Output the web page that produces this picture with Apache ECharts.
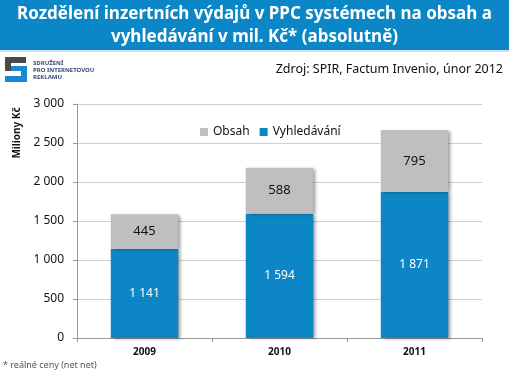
<!DOCTYPE html>
<html>
<head>
<meta charset="utf-8">
<script src="https://cdn.jsdelivr.net/npm/echarts@6/dist/echarts.min.js"></script>
<style>
  html, body { margin: 0; padding: 0; background: #fff; }
  #chartContainer { width: 509px; height: 376px; }
</style>
</head>
<body>
<div id="chartContainer"></div>
<script>
const years = ['2009', '2010', '2011'];
const searchValues = [1141, 1594, 1871];
const contentValues = [445, 588, 795];
const yTicks = [0, 500, 1000, 1500, 2000, 2500, 3000];

const FONT = '"Noto Sans", sans-serif';
const BLUE = '#0c86c4';
const GREY = '#bfbfbf';

function fmt(v) {
    return String(v).replace(/\B(?=(\d{3})+(?!\d))/g, ' ');
}

let chart = null;

document.addEventListener('DOMContentLoaded', function() {
    chart = echarts.init(document.getElementById('chartContainer'));

    const barShadow = {
        shadowColor: 'rgba(0,0,0,0.35)',
        shadowBlur: 3,
        shadowOffsetX: 3,
        shadowOffsetY: 1
    };

    const option = {
        backgroundColor: '#fff',
        textStyle: { fontFamily: FONT },
        graphic: [
            { type: 'rect', shape: { x: 0, y: 0, width: 509, height: 50 }, style: { fill: '#0b86c6' } },
            { type: 'rect', shape: { x: 0, y: 50, width: 509, height: 2 }, style: { fill: '#cfe3ef' } },
            { type: 'text', left: 'center', top: 3, style: { text: 'Rozdělení inzertních výdajů v PPC systémech na obsah a\nvyhledávání v mil. Kč* (absolutně)', fill: '#fff', font: 'bold 17px ' + FONT, textAlign: 'center', lineHeight: 23 } },
            // logo
            { type: 'rect', shape: { x: 5, y: 57, width: 21, height: 6 }, style: { fill: '#4a4a4a' } },
            { type: 'rect', shape: { x: 5, y: 57, width: 6, height: 14 }, style: { fill: '#4a4a4a' } },
            { type: 'rect', shape: { x: 11, y: 66, width: 16, height: 5 }, style: { fill: '#1a8ad0' } },
            { type: 'rect', shape: { x: 21, y: 66, width: 6, height: 16 }, style: { fill: '#1a8ad0' } },
            { type: 'rect', shape: { x: 5, y: 76, width: 22, height: 6 }, style: { fill: '#1a8ad0' } },
            { type: 'text', left: 33, top: 60, style: { text: 'SDRUŽENÍ\nPRO INTERNETOVOU\nREKLAMU', fill: '#3a4a7a', font: 'bold 6px ' + FONT, lineHeight: 7 } },
            { type: 'text', right: 6, top: 63, style: { text: 'Zdroj: SPIR, Factum Invenio, únor 2012', fill: '#111', font: '12.5px ' + FONT } },
            { type: 'text', left: 3, top: 361, style: { text: '* reálné ceny (net net)', fill: '#555', font: '9px ' + FONT } },
            { type: 'text', x: 17, y: 133, rotation: Math.PI / 2, style: { text: 'Miliony Kč', fill: '#111', font: 'bold 10px ' + FONT, textAlign: 'center', verticalAlign: 'middle' } }
        ],
        legend: {
            data: ['Obsah', 'Vyhledávání'],
            left: 195,
            top: 121,
            itemWidth: 8,
            itemHeight: 8,
            itemGap: 10,
            icon: 'rect',
            textStyle: { fontSize: 12, color: '#111', fontFamily: FONT }
        },
        grid: { left: 77, right: 27, top: 104, bottom: 38 },
        xAxis: {
            type: 'category',
            data: years,
            axisLine: { lineStyle: { color: '#999' } },
            axisTick: { show: true, length: 4, lineStyle: { color: '#999' } },
            axisLabel: { fontSize: 10, fontWeight: 'bold', color: '#111', margin: 9, fontFamily: FONT }
        },
        yAxis: {
            type: 'value',
            min: yTicks[0],
            max: yTicks[yTicks.length - 1],
            interval: 500,
            axisLine: { show: true, lineStyle: { color: '#999' } },
            axisTick: { show: true, length: 4, lineStyle: { color: '#999' } },
            splitLine: { lineStyle: { color: '#cfcfcf' } },
            axisLabel: { fontSize: 12, color: '#111', margin: 13, formatter: fmt, fontFamily: FONT }
        },
        series: [
            {
                name: 'Vyhledávání',
                type: 'bar',
                stack: 'total',
                barWidth: '50%',
                data: searchValues,
                itemStyle: Object.assign({ color: BLUE }, barShadow),
                label: { show: true, position: 'inside', color: '#fff', fontSize: 12, formatter: p => fmt(p.value) }
            },
            {
                name: 'Obsah',
                type: 'bar',
                stack: 'total',
                barWidth: '50%',
                data: contentValues,
                itemStyle: Object.assign({ color: GREY }, barShadow),
                label: { show: true, position: 'inside', color: '#111', fontSize: 13, formatter: p => fmt(p.value) }
            }
        ]
    };

    chart.setOption(option);
});
</script>
</body>
</html>
